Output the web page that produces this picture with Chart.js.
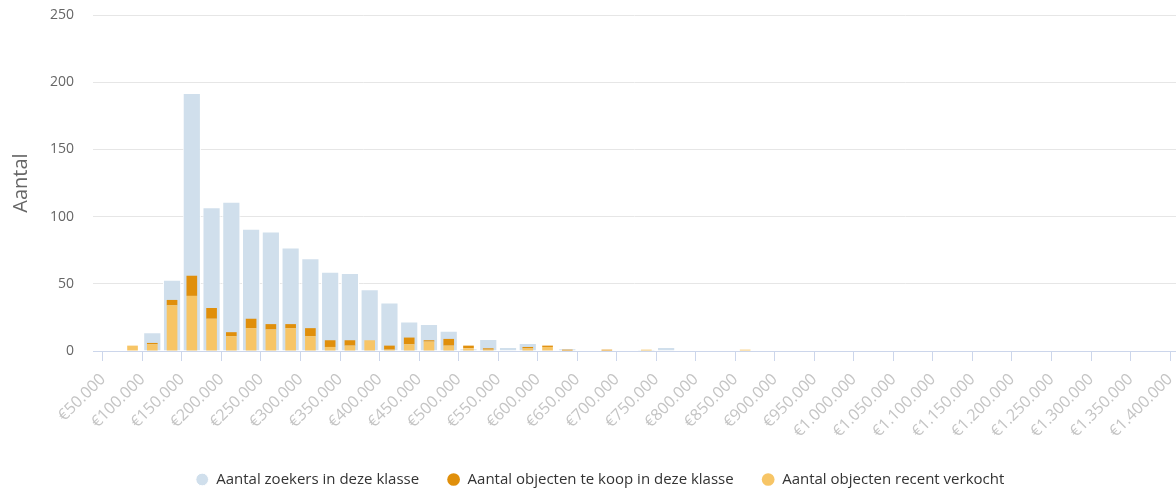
<!DOCTYPE html>
<html lang="nl">
<head>
<meta charset="utf-8">
<title>Aantal zoekers per prijsklasse</title>
<script src="https://cdn.jsdelivr.net/npm/chart.js@4/dist/chart.umd.min.js"></script>
<style>
  html, body { margin: 0; padding: 0; background: #fff; }
  #wrap { position: relative; width: 1176px; height: 491px; }
</style>
</head>
<body>
<div id="wrap"><canvas id="klasseChart"></canvas></div>
<script>
// price classes of 25.000, x = middle of the class
const binCenters = [62500, 87500, 112500, 137500, 162500, 187500, 212500, 237500, 262500, 287500,
  312500, 337500, 362500, 387500, 412500, 437500, 462500, 487500, 512500, 537500,
  562500, 587500, 612500, 637500, 662500, 687500, 712500, 737500, 762500, 787500,
  812500, 837500, 862500];

const zoekers = [0, 0, 14, 53, 192, 107, 111, 91, 89, 77, 69, 59, 58, 46, 36, 22, 20, 15, 2, 9,
  3, 6, 0, 2, 0, 0, 0, 1, 3, 0, 0, 0, 0];
const teKoop = [0, 0, 1, 4, 15, 8, 3, 7, 4, 3, 6, 5, 4, 0, 3, 5, 1, 5, 2, 1,
  0, 1, 1, 1, 0, 1, 0, 0, 0, 0, 0, 0, 0];
const verkocht = [0, 4, 5, 34, 41, 24, 11, 17, 16, 17, 11, 3, 4, 8, 1, 5, 7, 4, 2, 1,
  0, 2, 3, 0, 0, 0, 0, 1, 0, 0, 0, 0, 1];

// axis ranges / ticks
const xMin = 37500, xMax = 1407500;
const xTicks = [];
for (let v = 50000; v <= 1400000; v += 50000) xTicks.push(v);
const yMax = 250, yStep = 50;

const FONT = "'Open Sans', sans-serif";

function euro(v) {
  return '€' + String(v).replace(/\B(?=(\d{3})+(?!\d))/g, '.');
}

function points(values) {
  return binCenters.map((x, i) => ({ x: x, y: values[i] }));
}

document.addEventListener('DOMContentLoaded', function () {
  const ctx = document.getElementById('klasseChart').getContext('2d');
  new Chart(ctx, {
    type: 'bar',
    data: {
      datasets: [
        {
          // bottom of the small stack
          label: 'Aantal objecten recent verkocht',
          data: points(verkocht),
          backgroundColor: '#f7c566',
          stack: 'objecten',
          grouped: false,
          categoryPercentage: 1,
          barPercentage: 0.54,
        },
        {
          label: 'Aantal objecten te koop in deze klasse',
          data: points(teKoop),
          backgroundColor: '#e08f0b',
          stack: 'objecten',
          grouped: false,
          categoryPercentage: 1,
          barPercentage: 0.54,
        },
        {
          // last dataset is drawn first, so it sits behind the others
          label: 'Aantal zoekers in deze klasse',
          data: points(zoekers),
          backgroundColor: '#d0dfec',
          borderColor: '#ffffff',
          borderWidth: 1,
          stack: 'zoekers',
          grouped: false,
          categoryPercentage: 1,
          barPercentage: 0.92,
        },
      ],
    },
    options: {
      responsive: true,
      maintainAspectRatio: false,
      animation: false,
      layout: {
        padding: { top: 15, left: 24, right: 0, bottom: -6 },
      },
      plugins: {
        legend: {
          position: 'bottom',
          labels: {
            usePointStyle: true,
            pointStyle: 'circle',
            boxWidth: 13,
            boxHeight: 9,
            padding: 28,
            color: '#333333',
            font: { family: FONT, size: 15 },
            sort: (a, b) => b.datasetIndex - a.datasetIndex,
          },
        },
      },
      scales: {
        x: {
          type: 'linear',
          min: xMin,
          max: xMax,
          offset: false,
          grid: {
            offset: false,
            drawOnChartArea: false,
            drawTicks: true,
            tickLength: 10,
            color: '#ccd6eb',
          },
          border: { color: '#ccd6eb', width: 1 },
          ticks: {
            autoSkip: false,
            maxRotation: 45,
            minRotation: 45,
            padding: 9,
            color: '#c4c4c4',
            font: { family: FONT, size: 16 },
            callback: (v) => euro(v),
          },
          afterBuildTicks: (scale) => {
            scale.ticks = xTicks.map((v) => ({ value: v }));
          },
          afterFit: (scale) => {
            scale.height = 93;
            scale.paddingLeft = 0;
            scale.paddingRight = 0;
          },
        },
        y: {
          stacked: true,
          min: 0,
          max: yMax,
          grid: { color: '#e6e6e6', drawTicks: false },
          border: { display: false },
          ticks: {
            stepSize: yStep,
            padding: 19,
            color: '#666666',
            font: { family: FONT, size: 14 },
          },
          title: {
            display: true,
            text: 'Aantal',
            color: '#666666',
            font: { family: FONT, size: 20 },
            padding: { top: -15, bottom: 0 },
          },
          afterFit: (scale) => {
            scale.width = 69;
            scale.paddingTop = 0;
            scale.paddingBottom = 0;
          },
        },
      },
    },
  });
});
</script>
</body>
</html>
